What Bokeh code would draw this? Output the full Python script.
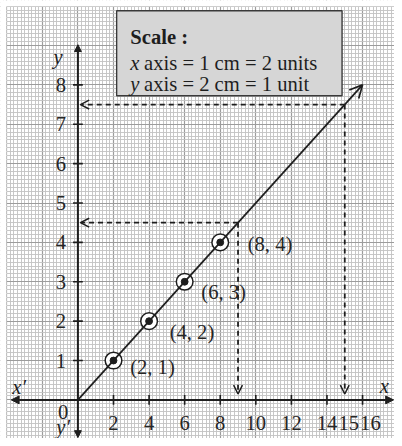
from bokeh.plotting import figure
from bokeh.models import Range1d, Grid, SingleIntervalTicker, Arrow, OpenHead, NormalHead
from bokeh.core.properties import value
from bokeh.embed import file_html
from bokeh.resources import INLINE

# ---- data ----
points_x = [2, 4, 6, 8]
points_y = [1, 2, 3, 4]
point_labels = ["(2, 1)", "(4, 2)", "(6, 3)", "(8, 4)"]
line_x = [0, 16]
line_y = [0, 8]
read_x = [9, 15]
read_y = [4.5, 7.5]
xtick_vals = [2, 4, 6, 8, 10, 12, 14, 16]
xlabel_vals = [2, 4, 6, 8, 10, 12, 14, 15, 16]
xlabel_text = ["2", "4", "6", "8", "10", "12", "14", "15", "16"]
ytick_vals = [1, 2, 3, 4, 5, 6, 7, 8]
ylabel_text = ["1", "2", "3", "4", "5", "6", "7", "8"]
scale_title = "Scale :"
scale_vars = ["x", "y"]
scale_rest = ["axis = 1 cm = 2 units", "axis = 2 cm = 1 unit"]

# ---- layout helpers (reference-image pixels -> data) ----
X0, SX = 79.0, 18.15
Y0, SY = 406.7, 40.1
W, H = 394, 438
K = W / 402.0          # screen scale of figure vs. reference image
def dx(px):
    return (px - X0) / SX
def dy(py):
    return (Y0 - py) / SY
def s(v):
    return v * K

FONT = value("Liberation Serif")
FS = value("20.6px")
INK = "#1e1e1e"
TXT = "#262626"

p = figure(width=W, height=H,
           x_range=Range1d(dx(0), dx(402)), y_range=Range1d(dy(446), dy(0)),
           x_axis_type=None, y_axis_type=None,
           output_backend="svg", toolbar_location=None,
           min_border=0, outline_line_color=None,
           background_fill_color="white", border_fill_color="white")

# graph paper
for dim, iv in ((0, 2), (1, 1)):
    p.add_layout(Grid(dimension=dim, ticker=SingleIntervalTicker(interval=iv, num_minor_ticks=10),
                      grid_line_color="#9c9c9c", grid_line_width=1.2,
                      minor_grid_line_color="#c2c2c2", minor_grid_line_width=0.9))

# white page edge (top / left) outside the paper
p.quad(left=[dx(0), dx(0)], right=[dx(6), dx(402)], top=[dy(0), dy(0)], bottom=[dy(446), dy(6)],
       fill_color="white", line_color=None)

# axes with arrows
p.add_layout(Arrow(start=NormalHead(size=s(8), line_color=INK, fill_color=INK),
                   end=NormalHead(size=s(8), line_color=INK, fill_color=INK),
                   x_start=dx(11), y_start=0, x_end=dx(401), y_end=0,
                   line_color=INK, line_width=2))
p.add_layout(Arrow(start=NormalHead(size=s(7), line_color=INK, fill_color=INK),
                   end=NormalHead(size=s(7), line_color=INK, fill_color=INK),
                   x_start=0, y_start=dy(445), x_end=0, y_end=dy(45),
                   line_color=INK, line_width=2))

# tick marks
p.segment(x0=xtick_vals, y0=[dy(Y0 + 5)] * len(xtick_vals),
          x1=xtick_vals, y1=[dy(Y0 - 5)] * len(xtick_vals),
          line_color=INK, line_width=1.6)
p.segment(x0=[dx(X0 - 5)] * len(ytick_vals), y0=ytick_vals,
          x1=[dx(X0 + 5)] * len(ytick_vals), y1=ytick_vals,
          line_color=INK, line_width=1.6)

# tick labels
xoff = [0, 0, 0, 0, 0, 0, 0, 4, 8]
p.text(x=xlabel_vals, y=[0] * len(xlabel_vals), text=xlabel_text,
       x_offset=[s(v) for v in xoff], y_offset=[s(23.5)] * len(xlabel_vals),
       text_font=FONT, text_font_size=FS, text_color=TXT,
       text_align="center", text_baseline="middle")
p.text(x=[0] * len(ytick_vals), y=ytick_vals, text=ylabel_text,
       x_offset=[s(-12)] * len(ytick_vals),
       text_font=FONT, text_font_size=FS, text_color=TXT,
       text_align="right", text_baseline="middle")

# scale box
p.quad(left=[dx(118.5)], right=[dx(348.5)], top=[dy(10.5)], bottom=[dy(97)],
       fill_color="#d6d6d6", line_color="#3a3a3a", line_width=1.4)
p.text(x=[dx(132.5)], y=[dy(36.7)], text=[scale_title], text_font=FONT, text_font_size=FS,
       text_font_style="bold", text_color=INK, text_baseline="alphabetic")
p.text(x=[dx(132.5)] * 2, y=[dy(64), dy(85)], text=scale_vars, text_font=FONT, text_font_size=FS,
       text_font_style="italic", text_color=INK, text_baseline="alphabetic")
p.text(x=[dx(146.5)] * 2, y=[dy(64), dy(85)], text=scale_rest, text_font=FONT, text_font_size=FS,
       text_color=INK, text_baseline="alphabetic")

# dashed reading lines
for rx, ry in zip(read_x, read_y):
    p.add_layout(Arrow(end=OpenHead(size=s(9), line_color=INK, line_width=1.5),
                       x_start=rx, y_start=ry, x_end=dx(X0 + 2.5), y_end=ry,
                       line_color=INK, line_width=1.8, line_dash="5 4"))
    p.add_layout(Arrow(end=OpenHead(size=s(9), line_color=INK, line_width=1.5),
                       x_start=rx, y_start=ry, x_end=rx, y_end=dy(Y0 - 6),
                       line_color=INK, line_width=1.8, line_dash="5 4"))

# main line y = x/2 with arrow
p.add_layout(Arrow(end=OpenHead(size=s(13), line_color=INK, line_width=1.7),
                   x_start=line_x[0], y_start=line_y[0], x_end=line_x[1], y_end=line_y[1],
                   line_color=INK, line_width=1.7))

# circled points
p.scatter(points_x, points_y, size=s(17), fill_color="white", line_color=INK, line_width=1.5)
p.scatter(points_x, points_y, size=s(7), fill_color=INK, line_color=INK)
p.text(x=points_x, y=points_y, text=point_labels,
       x_offset=[s(v) for v in (17, 21, 17, 28)], y_offset=[s(v) for v in (7, 11, 10, 2)],
       text_font=FONT, text_font_size=FS, text_color=TXT,
       text_align="left", text_baseline="middle")

# axis names
p.text(x=[dx(54)], y=[dy(58)], text=["y"], text_font=FONT, text_font_size=FS,
       text_font_style="italic", text_color=INK, text_baseline="alphabetic")
p.text(x=[dx(387)], y=[dy(393)], text=["x"], text_font=FONT, text_font_size=FS,
       text_font_style="italic", text_color=INK, text_baseline="alphabetic")
p.text(x=[dx(12)], y=[dy(394)], text=["x\u2032"], text_font=FONT, text_font_size=FS,
       text_font_style="italic", text_color=INK, text_baseline="alphabetic")
p.text(x=[dx(57)], y=[dy(434)], text=["y\u2032"], text_font=FONT, text_font_size=FS,
       text_font_style="italic", text_color=INK, text_baseline="middle")
p.text(x=[dx(64)], y=[dy(419)], text=["0"], text_font=FONT, text_font_size=FS,
       text_color=TXT, text_align="center", text_baseline="middle")

open("out.html", "w").write(file_html(p, INLINE))
